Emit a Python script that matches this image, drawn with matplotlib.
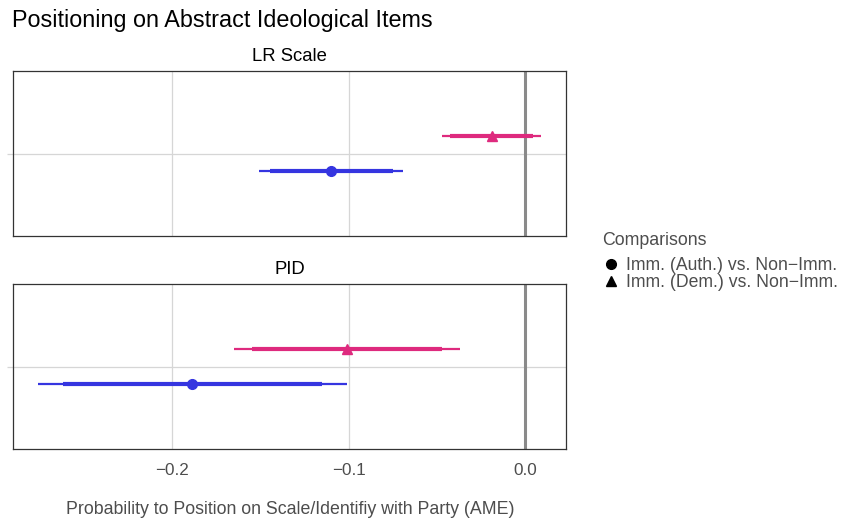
#!/usr/bin/env python3

import numpy as np
from matplotlib import pyplot as plt
from matplotlib.lines import Line2D

plt.rcParams['font.family'] = ['Liberation Sans', 'DejaVu Sans']

# panels (facets) and comparisons
PANELS = ['LR Scale', 'PID']
COMPARISONS = ['Imm. (Auth.) vs. Non\u2212Imm.', 'Imm. (Dem.) vs. Non\u2212Imm.']
MARKERS = ['o', '^']
COLORS = ['#3535e0', '#de2a7e']

# estimates per panel: [Auth, Dem]
est = {'LR Scale': [-0.110, -0.0185], 'PID': [-0.1885, -0.101]}
ci95_lo = {'LR Scale': [-0.151, -0.047], 'PID': [-0.276, -0.165]}
ci95_hi = {'LR Scale': [-0.069, 0.009], 'PID': [-0.101, -0.037]}
ci90_lo = {'LR Scale': [-0.1445, -0.0425], 'PID': [-0.2615, -0.1545]}
ci90_hi = {'LR Scale': [-0.075, 0.0047], 'PID': [-0.115, -0.047]}

W, H = 845, 520
fig = plt.figure(figsize=(W / 100, H / 100), dpi=100)

def px_axes(left, top, right, bottom):
  return fig.add_axes([left / W, 1 - bottom / H, (right - left) / W, (bottom - top) / H])

boxes = [(13, 71, 566, 236), (13, 284, 566, 449)]
offsets = [-0.125, 0.125]

for i, (panel, box) in enumerate(zip(PANELS, boxes)):
  ax = px_axes(*box)
  for j in range(2):
    y = offsets[j]
    ax.plot([ci95_lo[panel][j], ci95_hi[panel][j]], [y, y], color=COLORS[j], lw=1.6, solid_capstyle='butt', zorder=3)
    ax.plot([ci90_lo[panel][j], ci90_hi[panel][j]], [y, y], color=COLORS[j], lw=3.0, solid_capstyle='butt', zorder=3)
    ax.plot([est[panel][j]], [y], marker=MARKERS[j], color=COLORS[j], ms=7, zorder=4)
  ax.axvline(0, color='#8a8a8a', lw=2.2, zorder=2)
  ax.set_xlim(-0.2901, 0.0232)
  ax.set_ylim(-0.6, 0.6)
  ax.set_xticks([-0.2, -0.1, 0.0])
  ax.set_yticks([0])
  ax.grid(color='#d6d6d6', lw=0.9, zorder=0)
  ax.tick_params(axis='x', length=0)
  ax.tick_params(axis='y', length=4.5, width=0.9, color='#d6d6d6', labelleft=False)
  if i == 0:
    ax.tick_params(labelbottom=False)
  else:
    ax.set_xticklabels(['\u22120.2', '\u22120.1', '0.0'])
    ax.tick_params(axis='x', labelsize=12.3, labelcolor='#4d4d4d', pad=10)
  for s in ax.spines.values():
    s.set_color('#333333')
    s.set_linewidth(0.9)
  ax.set_axisbelow(True)
  fig.text((box[0] + box[2]) / 2 / W, 1 - (box[1] - 15) / H, panel, ha='center', va='center', fontsize=13.3)

fig.text(12 / W, 1 - 21 / H, 'Positioning on Abstract Ideological Items', ha='left', va='center', fontsize=16.8)
fig.text(290 / W, 1 - 509 / H, 'Probability to Position on Scale/Identifiy with Party (AME)',
         ha='center', va='center', fontsize=12.8, color='#4d4d4d')

handles = [Line2D([], [], marker=m, color='black', ls='none', ms=7) for m in MARKERS]
leg = fig.legend(handles, COMPARISONS, title='Comparisons', loc='upper left',
                 bbox_to_anchor=(602 / W, 1 - 232 / H), frameon=False, fontsize=12.7,
                 title_fontsize=12.8, handletextpad=0.35, labelspacing=0.0, handlelength=1.0,
                 borderaxespad=0, borderpad=0)
leg._legend_box.align = 'left'
leg._legend_box.sep = 6
leg.get_title().set_color('#4d4d4d')
for t in leg.get_texts():
  t.set_color('#4d4d4d')

fig.savefig('out.png', dpi=100)
